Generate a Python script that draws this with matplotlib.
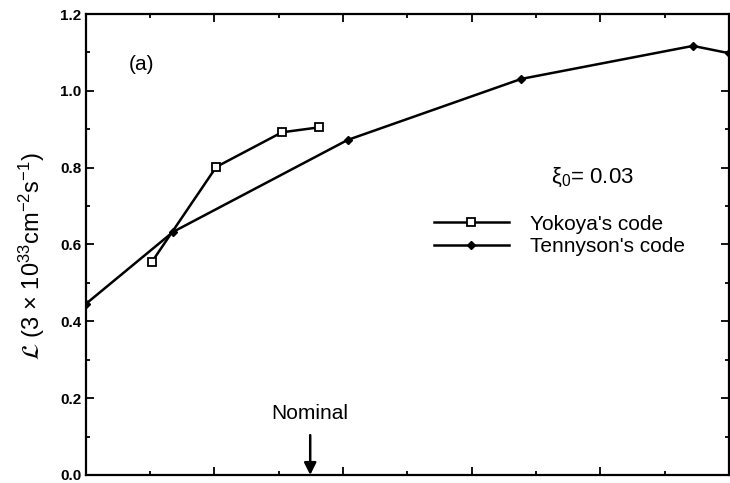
import matplotlib
matplotlib.use("Agg")
import matplotlib.pyplot as plt
from matplotlib.ticker import MultipleLocator, NullFormatter

plt.rcParams['font.family'] = ['Liberation Sans', 'DejaVu Sans']
plt.rcParams['mathtext.fontset'] = 'stixsans'
plt.rcParams['mathtext.default'] = 'regular'

# Yokoya's code (open squares)
yokoya_x = [1.03, 2.03, 3.05, 3.63]
yokoya_y = [0.555, 0.802, 0.892, 0.905]

# Tennyson's code (filled diamonds)
tennyson_x = [0.0, 1.36, 4.07, 6.77, 9.44, 10.0]
tennyson_y = [0.445, 0.633, 0.872, 1.031, 1.117, 1.098]

nominal_x = 3.49
xi_label = 'ξ$_0$= 0.03'

fig = plt.figure(figsize=(7.3, 4.83), dpi=100)
ax = fig.add_axes([0.1174, 0.0166, 0.8812, 0.9544])

ax.plot(yokoya_x, yokoya_y, color='black', lw=1.8, marker='s', ms=6,
        mfc='white', mec='black', mew=1.3, label="Yokoya's code", zorder=3)
ax.plot(tennyson_x, tennyson_y, color='black', lw=1.8, marker='D', ms=4,
        mfc='black', mec='black', label="Tennyson's code", zorder=2)

ax.set_xlim(0, 10)
ax.set_ylim(0, 1.2)

ax.yaxis.set_major_locator(MultipleLocator(0.2))
ax.yaxis.set_minor_locator(MultipleLocator(0.1))
ax.xaxis.set_major_locator(MultipleLocator(2))
ax.xaxis.set_minor_locator(MultipleLocator(1))
ax.xaxis.set_major_formatter(NullFormatter())
ax.set_yticklabels([f'{v:.1f}' for v in ax.get_yticks()], fontweight='bold', fontsize=11)

ax.tick_params(which='both', direction='in', top=True, right=True, width=1.3)
ax.tick_params(which='major', length=6)
ax.tick_params(which='minor', length=3)
ax.tick_params(axis='y', pad=3)
for s in ax.spines.values():
    s.set_linewidth(1.6)

ax.set_ylabel(r'$\mathcal{L}$ (3 × 10$^{33}$cm$^{-2}$s$^{-1}$)', fontsize=17)
ax.yaxis.set_label_coords(-0.06, 0.475)

ax.text(0.087, 0.89, '(a)', transform=ax.transAxes, fontsize=15, ha='center', va='center')
ax.text(0.788, 0.645, xi_label, transform=ax.transAxes, fontsize=16, ha='center', va='center')

ax.legend(loc='center left', bbox_to_anchor=(0.525, 0.52), frameon=False, fontsize=15,
          handlelength=3.6, handletextpad=1.0, labelspacing=0.15, borderpad=0)

ax.annotate('Nominal', xy=(nominal_x, 0.0), xytext=(nominal_x, 0.161),
            ha='center', va='center', fontsize=15,
            arrowprops=dict(arrowstyle='-|>', color='black', lw=1.8, mutation_scale=18,
                            shrinkA=7, shrinkB=0))

fig.savefig('out.png', dpi=100)
